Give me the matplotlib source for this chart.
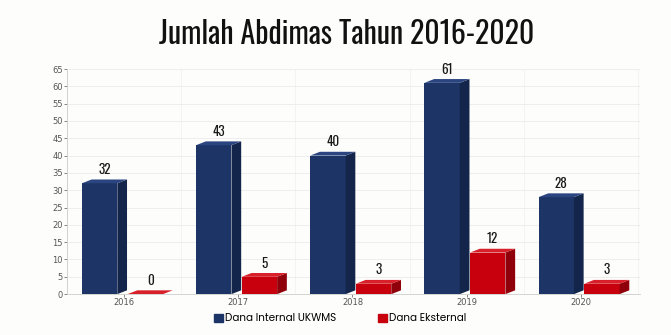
import matplotlib.pyplot as plt
import numpy as np
from matplotlib.patches import Polygon

years = ['2016', '2017', '2018', '2019', '2020']
internal = [32, 43, 40, 61, 28]
eksternal = [0, 5, 3, 12, 3]

blue = '#1d3566'
blue_side = '#14254b'
blue_top = '#2a4580'
red = '#c8000e'
red_side = '#8f000a'
red_top = '#d8202a'

fig = plt.figure(figsize=(6.71, 3.35), dpi=100)
fig.patch.set_facecolor('#fdfdfb')
ax = fig.add_axes([0.1, 0.122, 0.854, 0.672])
ax.set_facecolor('#fdfdfb')

x = np.arange(len(years))
w = 0.31    # front face width
dx = 0.085  # depth in x (data units)
dy = 1.1    # depth in y (data units)

def bar3d(xs, vals, face, side, top):
    for xi, v in zip(xs, vals):
        ax.bar(xi, v, width=w, align='edge', color=face, zorder=3, linewidth=0)
        ax.add_patch(Polygon([(xi + w, 0), (xi + w + dx, dy), (xi + w + dx, v + dy), (xi + w, v)],
                             closed=True, color=side, zorder=3, linewidth=0))
        ax.add_patch(Polygon([(xi, v), (xi + dx, v + dy), (xi + w + dx, v + dy), (xi + w, v)],
                             closed=True, color=top, zorder=3, linewidth=0))

bar3d(x - 0.37, internal, blue, blue_side, blue_top)
bar3d(x + 0.03, eksternal, red, red_side, red_top)

lab_font = ['Oswald', 'DejaVu Sans']
for xi, v in zip(x - 0.37 + w / 2, internal):
    ax.text(xi + dx / 2, v + dy + 1.0, str(v), ha='center', va='bottom', fontsize=9.5,
            family=lab_font, fontweight='medium', color='#1a1a1a')
for xi, v in zip(x + 0.03 + w / 2, eksternal):
    ax.text(xi + dx / 2, v + dy + 1.0, str(v), ha='center', va='bottom', fontsize=9.5,
            family=lab_font, fontweight='medium', color='#1a1a1a')

ax.set_xlim(-0.49, 4.52)
ax.set_ylim(0, 65)
ax.set_yticks(np.arange(0, 66, 5))
ax.set_xticks(x)
ax.set_xticklabels(years)
ax.tick_params(axis='both', labelsize=6, colors='#555555', length=2, width=0.5, pad=1)
ax.grid(axis='y', color='#ececec', linewidth=0.6, zorder=0)
ax.set_xticks(np.arange(-0.5, 4.6, 1), minor=True)
ax.grid(axis='x', which='minor', color='#f2f2f2', linewidth=0.6, zorder=0)
ax.tick_params(axis='x', which='minor', length=0)
for s in ['top', 'right']:
    ax.spines[s].set_visible(False)
ax.spines['left'].set_color('#cccccc')
ax.spines['bottom'].set_color('#cccccc')
ax.spines['left'].set_linewidth(0.6)
ax.spines['bottom'].set_linewidth(0.6)

fig.text(0.517, 0.897, 'Jumlah Abdimas Tahun 2016-2020', ha='center', va='center',
         fontsize=21.5, fontweight='semibold', family=lab_font, color='#111111')

h1 = Polygon([(0, 0)], color=blue)
h2 = Polygon([(0, 0)], color=red)
fig.legend([h1, h2], ['Dana Internal UKWMS', 'Dana Eksternal'], loc='center',
           bbox_to_anchor=(0.507, 0.048), ncol=2, frameon=False,
           handlelength=0.9, handleheight=0.9, handletextpad=0.2, columnspacing=4.0,
           prop={'family': ['Poppins', 'DejaVu Sans'], 'size': 7.5})

fig.savefig('out.png', dpi=100, facecolor=fig.get_facecolor())
